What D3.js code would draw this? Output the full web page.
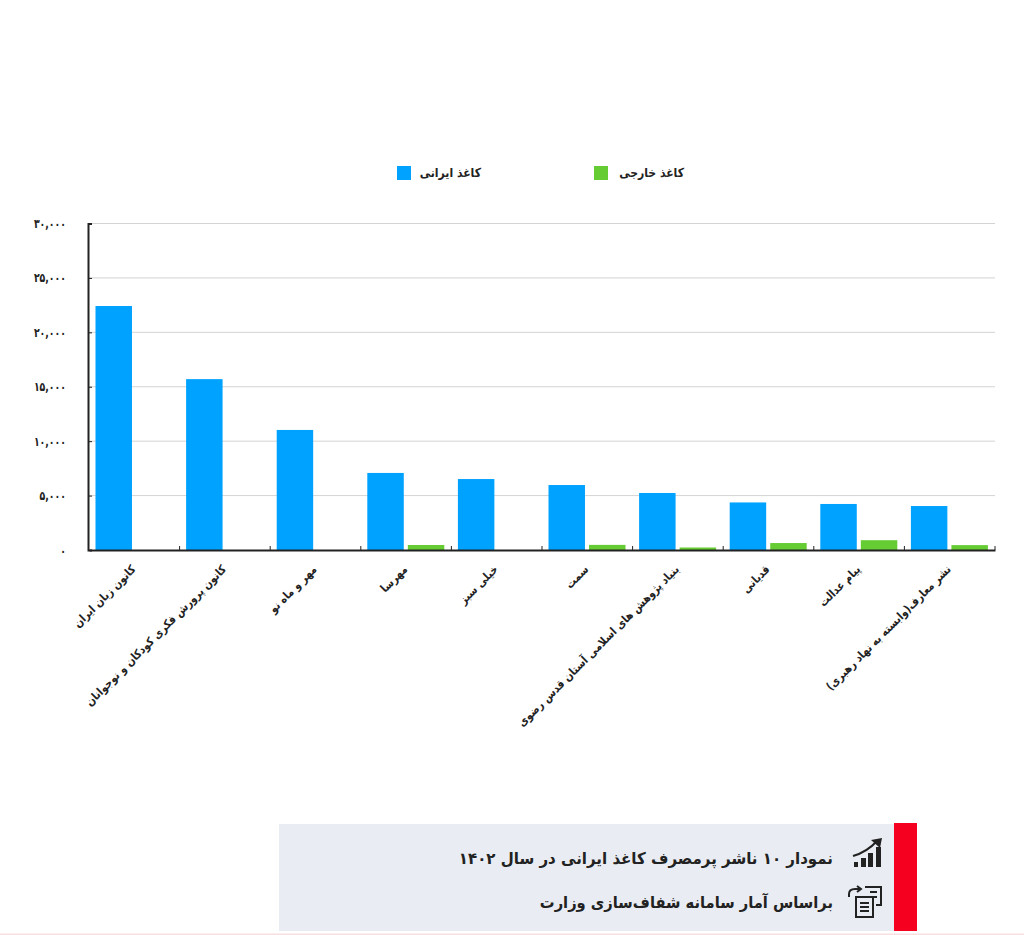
<!DOCTYPE html>
<html lang="fa">
<head>
<meta charset="utf-8">
<script src="https://cdn.jsdelivr.net/npm/d3@7"></script>
<style>
  html, body { margin: 0; background: #fff; }
  svg { display: block; font-family: "DejaVu Sans", sans-serif; }
  text { fill: #222; }
</style>
</head>
<body>
<div id="chart"></div>
<script>
const publishers = [
  'کانون زبان ایران',
  'کانون پرورش فکری کودکان و نوجوانان',
  'مهر و ماه نو',
  'مهرسا',
  'خیلی سبز',
  'سمت',
  'بنیاد پژوهش های اسلامی آستان قدس رضوی',
  'قدیانی',
  'پیام عدالت',
  'نشر معارف(وابسته به نهاد رهبری)'
];
const iranianPaper = [22420, 15700, 11030, 7080, 6520, 5970, 5240, 4370, 4230, 4040];
const foreignPaper = [0, 0, 0, 460, 0, 470, 230, 640, 900, 450];
const yTicks = [0, 5000, 10000, 15000, 20000, 25000, 30000];
const seriesNames = ['کاغذ ایرانی', 'کاغذ خارجی'];
const seriesColors = ['#00a2ff', '#66cc33'];
const chartTitle = 'نمودار ۱۰ ناشر پرمصرف کاغذ ایرانی در سال ۱۴۰۲';
const chartSource = 'براساس آمار سامانه شفاف‌سازی وزارت';

const width = 1024, height = 935;
const plotLeft = 89, plotRight = 995, plotTop = 223.5, plotBottom = 550;

const svg = d3.select('#chart').append('svg')
  .attr('width', width)
  .attr('height', height);

const x = d3.scaleBand().domain(d3.range(publishers.length)).range([plotLeft, plotRight]);
const xInner = d3.scaleBand().domain([0, 1]).range([6.5, 83.5]).paddingInner(0.1);
const y = d3.scaleLinear().domain([0, 30000]).range([plotBottom, plotTop]);

const toPersian = s => s.replace(/\d/g, d => '۰۱۲۳۴۵۶۷۸۹'[d]);

// grid
svg.append('g').selectAll('line')
  .data(yTicks.slice(1))
  .enter().append('line')
  .attr('x1', plotLeft).attr('x2', plotRight)
  .attr('y1', d => y(d)).attr('y2', d => y(d))
  .attr('stroke', '#d4d4d4').attr('stroke-width', 1);

// bars
[iranianPaper, foreignPaper].forEach((values, s) => {
  svg.append('g').selectAll('rect')
    .data(values)
    .enter().append('rect')
    .attr('x', (d, i) => x(i) + xInner(s))
    .attr('y', d => y(d))
    .attr('width', xInner.bandwidth())
    .attr('height', d => plotBottom - y(d))
    .attr('fill', seriesColors[s]);
});

// y axis
const yAxis = svg.append('g')
  .attr('transform', `translate(${plotLeft - 1},0)`)
  .call(d3.axisLeft(y).tickValues(yTicks).tickSize(-4)
    .tickFormat(d => toPersian(d3.format(',')(d))));
yAxis.selectAll('path, line').attr('stroke', '#222');
yAxis.select('path').attr('stroke-width', 2);
yAxis.selectAll('text')
  .attr('x', 0)
  .attr('transform', 'translate(-22,0) scale(.75,1)')
  .attr('font-size', 12.5).attr('font-weight', 'bold').attr('fill', '#222')
  .style('font-family', '"DejaVu Sans", sans-serif');

// x axis
const xAxis = svg.append('g')
  .attr('transform', `translate(0,${plotBottom})`)
  .call(d3.axisBottom(x).tickSize(0).tickPadding(0).tickFormat(i => publishers[i]));
xAxis.select('path').attr('stroke', '#222').attr('stroke-width', 2);
xAxis.selectAll('text')
  .attr('direction', 'rtl')
  .attr('text-anchor', 'start')
  .attr('dy', null)
  .attr('y', 0)
  .attr('transform', 'translate(2,20) rotate(-45) scale(.87,1)')
  .attr('font-size', 11.5).attr('font-weight', 'bold').attr('fill', '#222')
  .style('font-family', '"DejaVu Sans", sans-serif');
xAxis.append('g').selectAll('line')
  .data(d3.range(1, publishers.length + 1))
  .enter().append('line')
  .attr('x1', i => plotLeft + i * x.step()).attr('x2', i => plotLeft + i * x.step())
  .attr('y1', -4).attr('y2', 0)
  .attr('stroke', '#222');

// legend
const legendX = [397, 594];
const legendTextX = [481, 684];
seriesNames.forEach((name, s) => {
  svg.append('rect')
    .attr('x', legendX[s]).attr('y', 166)
    .attr('width', 14).attr('height', 14)
    .attr('fill', seriesColors[s]);
  svg.append('text')
    .attr('transform', `translate(${legendTextX[s]},177) scale(.87,1)`)
    .attr('direction', 'rtl').attr('text-anchor', 'start')
    .attr('font-size', 12.5).attr('font-weight', 'bold')
    .text(name);
});

// caption box
svg.append('rect').attr('x', 279).attr('y', 824).attr('width', 615).attr('height', 107).attr('fill', '#e9edf3');
svg.append('rect').attr('x', 894).attr('y', 823).attr('width', 23).attr('height', 108).attr('fill', '#f5001e');
svg.append('rect').attr('x', 0).attr('y', 933.5).attr('width', width).attr('height', 1.5).attr('fill', '#f9dfe0');

svg.append('text')
  .attr('transform', 'translate(833,864) scale(.94,1)')
  .attr('direction', 'rtl').attr('text-anchor', 'start')
  .attr('font-size', 16).attr('font-weight', 'bold')
  .attr('fill', '#111')
  .text(chartTitle);
svg.append('text')
  .attr('transform', 'translate(833,908) scale(.92,1)')
  .attr('direction', 'rtl').attr('text-anchor', 'start')
  .attr('font-size', 16).attr('font-weight', 'bold')
  .text(chartSource);

// caption icons
const chartIcon = svg.append('g').attr('transform', 'translate(853,838)').attr('fill', '#222');
[[1, 24, 4], [8, 20, 5], [15, 15, 5], [23, 9, 5]].forEach(b => {
  chartIcon.append('rect').attr('x', b[0]).attr('y', b[1] + 0).attr('width', b[2]).attr('height', 29 - b[1]);
});
chartIcon.append('path').attr('d', 'M0,18 Q14,14 24,3').attr('fill', 'none').attr('stroke', '#222').attr('stroke-width', 2);
chartIcon.append('path').attr('d', 'M18,2 L29,0 L27,10 Z');

const docIcon = svg.append('g').attr('transform', 'translate(847,885)')
  .attr('fill', 'none').attr('stroke', '#222').attr('stroke-width', 2);
docIcon.append('path').attr('d', 'M18,2 H34 V20 H29');
docIcon.append('path').attr('d', 'M23,7 H30 M25,12 H30');
docIcon.append('rect').attr('x', 9).attr('y', 12).attr('width', 17).attr('height', 20).attr('fill', '#e9edf3');
docIcon.append('path').attr('d', 'M13,18 H22 M13,22 H22 M13,26 H22');
docIcon.append('path').attr('d', 'M2,12 V9 Q2,4 8,4 H13 M10,1 L14,4 L10,7');
</script>
</body>
</html>
